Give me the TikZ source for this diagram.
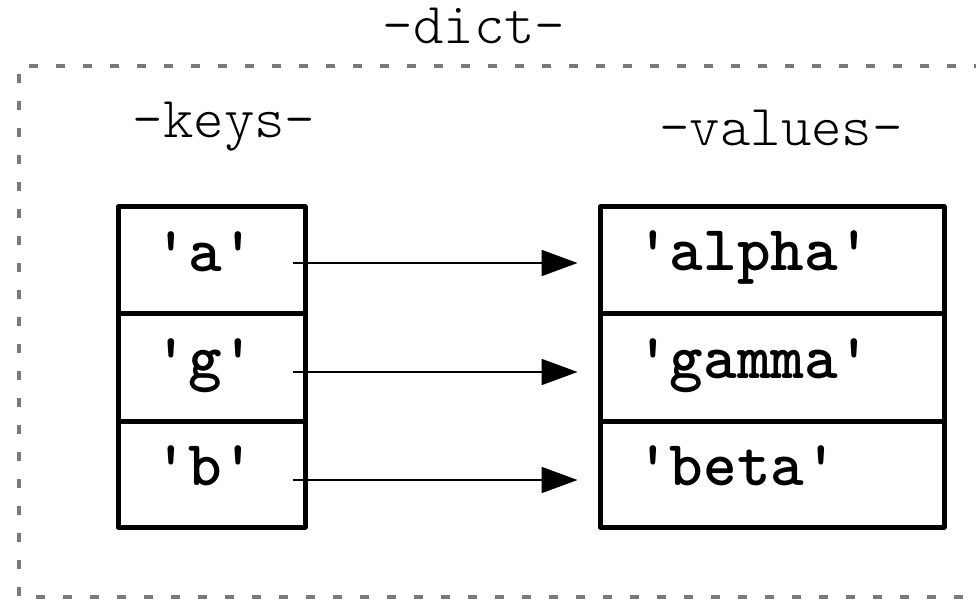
\documentclass[tikz,border=0pt]{standalone}
\usetikzlibrary{arrows.meta}
\definecolor{dashgray}{HTML}{7A7A7A}
\tikzset{
  cellbox/.style={draw=black, line width=5pt, inner sep=0pt, line join=round},
  celltext/.style={font=\ttfamily\bfseries\fontsize{64}{68}\selectfont, inner sep=0pt},
  lbltext/.style={font=\ttfamily\fontseries{l}\fontsize{58}{64}\selectfont, inner sep=0pt},
  maparrow/.style={line width=2pt, -{Triangle[length=36pt,width=26pt]}},
  dictbox/.style={draw=dashgray, line width=4pt, dash pattern=on 9pt off 18pt}
}
\begin{document}
\begin{tikzpicture}[x=1pt,y=-1pt]
\useasboundingbox (0,0) rectangle (976,601);
\clip (0,0) rectangle (976,601);
% dashed dict frame (right side outside view)
\draw[dictbox] (1010,66) -- (19,66) -- (19,597) -- (1010,597);
% labels
\node[lbltext, anchor=base] (dict) at (474,44) {-dict-};
\node[lbltext, anchor=base] (keys) at (224,138) {-keys-};
\node[lbltext, anchor=base] (vals) at (781,146) {-values-};
% key cells
\node[cellbox, minimum width=187pt, minimum height=106pt] (k1) at (211.5,260) {};
\node[cellbox, minimum width=187pt, minimum height=108pt] (k2) at (211.5,367) {};
\node[cellbox, minimum width=187pt, minimum height=106pt] (k3) at (211.5,474) {};
% value cells
\node[cellbox, minimum width=344pt, minimum height=106pt] (v1) at (772,260) {};
\node[cellbox, minimum width=344pt, minimum height=108pt] (v2) at (772,367) {};
\node[cellbox, minimum width=344pt, minimum height=106pt] (v3) at (772,474) {};
% texts
\node[celltext, anchor=base] (ta) at (205,272) {'a'};
\node[celltext, anchor=base] (tg) at (205,378) {'g'};
\node[celltext, anchor=base] (tb) at (205,485) {'b'};
\node[celltext, anchor=base west] (talpha) at (636,271) {'alpha'};
\node[celltext, anchor=base west] (tgamma) at (636,378) {'gamma'};
\node[celltext, anchor=base west] (tbeta) at (636,485) {'beta'};
% arrows
\draw[maparrow] ([xshift=-15pt,yshift=-3pt]k1.east) -- ([xshift=-20pt,yshift=-3pt]v1.west);
\draw[maparrow] ([xshift=-15pt,yshift=-5pt]k2.east) -- ([xshift=-20pt,yshift=-5pt]v2.west);
\draw[maparrow] ([xshift=-15pt,yshift=-6pt]k3.east) -- ([xshift=-20pt,yshift=-6pt]v3.west);
\end{tikzpicture}
\end{document}
